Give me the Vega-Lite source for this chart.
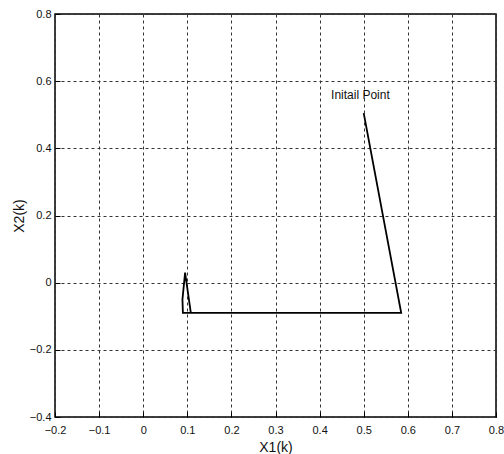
{
  "$schema": "https://vega.github.io/schema/vega-lite/v6.json",
  "width": 441,
  "height": 403,
  "autosize": {"type": "none"},
  "padding": {"left": 55, "top": 14, "right": 8, "bottom": 37},
  "background": "white",
  "config": {
    "view": {"stroke": "black", "strokeWidth": 1.5},
    "font": "Liberation Sans",
    "axis": {
      "grid": true,
      "gridColor": "#333",
      "gridDash": [3, 3],
      "gridWidth": 1,
      "gridOpacity": 1,
      "domain": false,
      "tickColor": "black",
      "tickSize": -5,
      "tickWidth": 1,
      "labelFont": "Liberation Sans",
      "labelFontSize": 11,
      "labelColor": "#111",
      "titleFont": "Liberation Sans",
      "titleFontSize": 14,
      "titleFontWeight": "normal",
      "titleColor": "#111"
    }
  },
  "datasets": {
    "traj": [
      {"i": 0, "x1": 0.5, "x2": 0.505},
      {"i": 1, "x1": 0.585, "x2": -0.09},
      {"i": 2, "x1": 0.09, "x2": -0.09},
      {"i": 3, "x1": 0.089, "x2": -0.05},
      {"i": 4, "x1": 0.095, "x2": 0.03},
      {"i": 5, "x1": 0.108, "x2": -0.09}
    ],
    "note": [
      {"x1": 0.426, "x2": 0.548, "label": "Initail Point"}
    ]
  },
  "layer": [
    {
      "data": {"name": "traj"},
      "mark": {"type": "line", "color": "black", "strokeWidth": 1.8, "clip": true},
      "encoding": {
        "x": {
          "field": "x1", "type": "quantitative",
          "scale": {"domain": [-0.2, 0.8], "nice": false, "zero": false},
          "axis": {"values": [-0.2, -0.1, 0, 0.1, 0.2, 0.3, 0.4, 0.5, 0.6, 0.7, 0.8], "format": "~g", "title": "X1(k)", "labelPadding": 12, "titlePadding": 5, "labelFlush": false}
        },
        "y": {
          "field": "x2", "type": "quantitative",
          "scale": {"domain": [-0.4, 0.8], "nice": false, "zero": false},
          "axis": {"values": [-0.4, -0.2, 0, 0.2, 0.4, 0.6, 0.8], "format": "~g", "title": "X2(k)", "labelPadding": 9, "titlePadding": 3, "labelFlush": false}
        },
        "order": {"field": "i"}
      }
    },
    {
      "data": {"name": "note"},
      "mark": {"type": "text", "align": "left", "baseline": "alphabetic", "fontSize": 12, "font": "Liberation Sans", "color": "#111"},
      "encoding": {
        "x": {"field": "x1", "type": "quantitative"},
        "y": {"field": "x2", "type": "quantitative"},
        "text": {"field": "label"}
      }
    }
  ]
}
